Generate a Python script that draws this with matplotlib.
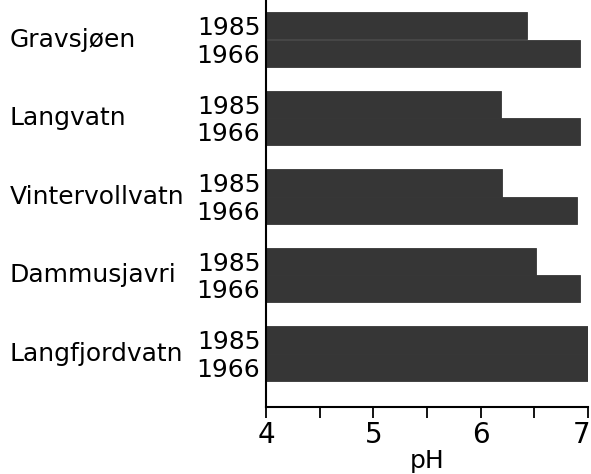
import matplotlib
matplotlib.use("Agg")
import matplotlib.pyplot as plt
import matplotlib.transforms as mtransforms
import numpy as np

# pH per lake
lakes = ["Gravsjøen", "Langvatn", "Vintervollvatn", "Dammusjavri", "Langfjordvatn"]
ph_1985 = [6.43, 6.19, 6.20, 6.52, 7.0]
ph_1966 = [6.93, 6.93, 6.90, 6.93, 7.0]
years = ["1985", "1966"]

base = 4.0
bar_h = 0.35
bar_col = "#363636"

fig = plt.figure(figsize=(5.91, 4.74), dpi=100)
ax = fig.add_axes([266 / 591, 1 - 407 / 474, (588 - 266) / 591, 407 / 474])

pos = np.arange(len(lakes))
y85 = pos - bar_h / 2
y66 = pos + bar_h / 2
ax.barh(y85, np.array(ph_1985) - base, left=base, height=bar_h, color=bar_col,
        edgecolor=bar_col, linewidth=0.6)
ax.barh(y66, np.array(ph_1966) - base, left=base, height=bar_h, color=bar_col,
        edgecolor=bar_col, linewidth=0.6)

ax.set_xlim(4, 7)
ax.set_ylim(4 + 53.5 / 78.5, -39.5 / 78.5)

# year labels as y ticks
ax.set_yticks(np.concatenate([y85, y66]))
ax.set_yticklabels([years[0]] * len(lakes) + [years[1]] * len(lakes), fontsize=18)
ax.tick_params(axis="y", length=0, pad=4)

ax.set_xticks([4, 5, 6, 7])
ax.set_xticks([4.5, 5.5, 6.5], minor=True)
ax.tick_params(axis="x", which="both", direction="out", length=8, width=1.3, labelsize=20, pad=2)
ax.set_xlabel("pH", fontsize=18, labelpad=0)

# nudge the "7" so it stays inside the picture
lbl7 = ax.get_xticklabels()[-1]
lbl7.set_transform(lbl7.get_transform() + mtransforms.ScaledTranslation(-6 / 100, 0, fig.dpi_scale_trans))

for s in ["top", "right"]:
    ax.spines[s].set_visible(False)
ax.spines["left"].set_linewidth(1.5)
ax.spines["bottom"].set_linewidth(1.5)

# lake names at the left
for i, name in enumerate(lakes):
    yy = ax.transData.transform((4, pos[i]))[1]
    fig.text(10 / 591, yy / fig.bbox.height, name, fontsize=18, ha="left", va="center")

fig.savefig("out.png", dpi=100)
